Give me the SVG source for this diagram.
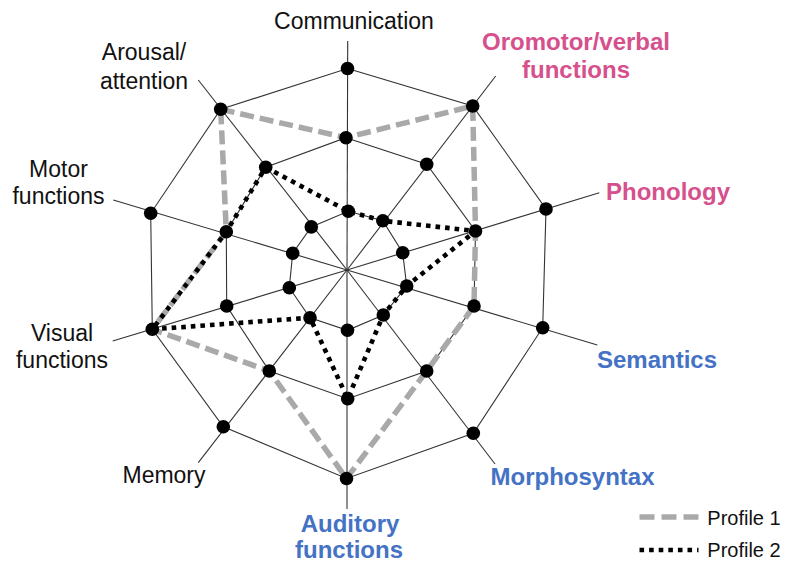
<svg xmlns="http://www.w3.org/2000/svg" width="790" height="564" viewBox="0 0 790 564">
  <style>
    .spoke, .ring { stroke: #333; stroke-width: 1.1; fill: none; }
    .p1 { stroke: #a9a9a9; stroke-width: 5.5; stroke-dasharray: 14 6; fill: none; stroke-linejoin: round; }
    .p2 { stroke: #000; stroke-width: 4.6; stroke-dasharray: 4.6 5; fill: none; }
    .dot { fill: #000; }
    .lbl { font-family: "Liberation Sans", Arial, sans-serif; font-size: 23px; fill: #111; text-anchor: middle; }
    .pink { font-weight: bold; font-size: 24px; fill: #d6508c; }
    .blue { font-weight: bold; font-size: 24px; fill: #4472c4; }
    .leg { font-family: "Liberation Sans", Arial, sans-serif; font-size: 20px; fill: #111; }
  </style>

  <!-- web: spokes and three decagon rings -->
  <g id="web">
    <line class="spoke" x1="347" y1="270" x2="347.7" y2="41"/>
    <line class="spoke" x1="347" y1="270" x2="495.7" y2="76"/>
    <line class="spoke" x1="347" y1="270" x2="599.3" y2="192.7"/>
    <line class="spoke" x1="347" y1="270" x2="597.3" y2="345"/>
    <line class="spoke" x1="347" y1="270" x2="495" y2="464"/>
    <line class="spoke" x1="347" y1="270" x2="347" y2="509"/>
    <line class="spoke" x1="347" y1="270" x2="198.3" y2="462.7"/>
    <line class="spoke" x1="347" y1="270" x2="112.7" y2="341"/>
    <line class="spoke" x1="347" y1="270" x2="113.3" y2="200"/>
    <line class="spoke" x1="347" y1="270" x2="198.3" y2="80"/>
    <polygon class="ring" points="347.5,68.5 472.7,106 546,209 542.7,327.7 473.3,433.3 346.5,478.5 223.3,426.7 152.3,329.3 150.7,213.3 220.7,109.3"/>
    <polygon class="ring" points="346,137.7 426.7,164.3 475.5,231 474,306 426.7,371 347.7,398.7 269.3,371 226.7,306 226.3,231.7 265.7,167.3"/>
    <polygon class="ring" points="348.3,211.3 382.8,220.8 402.7,252.7 406.7,286 383.3,315 347.5,330.3 310,317.7 289.3,287.7 292.7,253.3 311.3,226.9"/>
  </g>

  <!-- profile outlines -->
  <g id="connectors">
    <polygon id="profile1" class="p1" points="220.7,109.3 346,137.7 472.7,106 475.5,231 474,306 426.7,371 346.5,478.5 269.3,371 152.3,329.3 226.3,231.7"/>
    <polygon id="profile2" class="p2" points="265.7,167.3 348.3,211.3 382.8,220.8 475.5,231 406.7,286 383.3,315 347.7,398.7 310,317.7 152.3,329.3 226.3,231.7"/>
  </g>

  <!-- scale points on each axis -->
  <g id="points" class="dot">
    <circle cx="347.5" cy="68.5" r="6.8"/><circle cx="346" cy="137.7" r="6.8"/><circle cx="348.3" cy="211.3" r="6.8"/>
    <circle cx="472.7" cy="106" r="6.8"/><circle cx="426.7" cy="164.3" r="6.8"/><circle cx="382.8" cy="220.8" r="6.8"/>
    <circle cx="546" cy="209" r="6.8"/><circle cx="475.5" cy="231" r="6.8"/><circle cx="402.7" cy="252.7" r="6.8"/>
    <circle cx="542.7" cy="327.7" r="6.8"/><circle cx="474" cy="306" r="6.8"/><circle cx="406.7" cy="286" r="6.8"/>
    <circle cx="473.3" cy="433.3" r="6.8"/><circle cx="426.7" cy="371" r="6.8"/><circle cx="383.3" cy="315" r="6.8"/>
    <circle cx="346.5" cy="478.5" r="6.8"/><circle cx="347.7" cy="398.7" r="6.8"/><circle cx="347.5" cy="330.3" r="6.8"/>
    <circle cx="223.3" cy="426.7" r="6.8"/><circle cx="269.3" cy="371" r="6.8"/><circle cx="310" cy="317.7" r="6.8"/>
    <circle cx="152.3" cy="329.3" r="6.8"/><circle cx="226.7" cy="306" r="6.8"/><circle cx="289.3" cy="287.7" r="6.8"/>
    <circle cx="150.7" cy="213.3" r="6.8"/><circle cx="226.3" cy="231.7" r="6.8"/><circle cx="292.7" cy="253.3" r="6.8"/>
    <circle cx="220.7" cy="109.3" r="6.8"/><circle cx="265.7" cy="167.3" r="6.8"/><circle cx="311.3" cy="226.9" r="6.8"/>
  </g>

  <!-- axis labels -->
  <g id="axis-communication"><text class="lbl" x="354" y="28.5">Communication</text></g>
  <g id="axis-oromotor"><text class="lbl pink" x="576" y="50">Oromotor/verbal</text><text class="lbl pink" x="576" y="78.3">functions</text></g>
  <g id="axis-phonology"><text class="lbl pink" x="668" y="200">Phonology</text></g>
  <g id="axis-semantics"><text class="lbl blue" x="657" y="368.3">Semantics</text></g>
  <g id="axis-morphosyntax"><text class="lbl blue" x="572.5" y="485">Morphosyntax</text></g>
  <g id="axis-auditory"><text class="lbl blue" x="350" y="532">Auditory</text><text class="lbl blue" x="349" y="558">functions</text></g>
  <g id="axis-memory"><text class="lbl" x="164" y="482.7">Memory</text></g>
  <g id="axis-visual"><text class="lbl" x="62" y="340.5">Visual</text><text class="lbl" x="62" y="368.3">functions</text></g>
  <g id="axis-motor"><text class="lbl" x="58.5" y="176.7">Motor</text><text class="lbl" x="58.5" y="204">functions</text></g>
  <g id="axis-arousal"><text class="lbl" x="144" y="60">Arousal/</text><text class="lbl" x="144" y="88.5">attention</text></g>

  <!-- legend -->
  <g id="legend">
    <line class="p1" x1="639.5" y1="517" x2="698.5" y2="517" style="stroke-dasharray:15 7"/>
    <text class="leg" x="707.3" y="524.5">Profile 1</text>
    <line class="p2" x1="639.5" y1="550" x2="698.5" y2="550"/>
    <text class="leg" x="707.3" y="556.7">Profile 2</text>
  </g>
</svg>
